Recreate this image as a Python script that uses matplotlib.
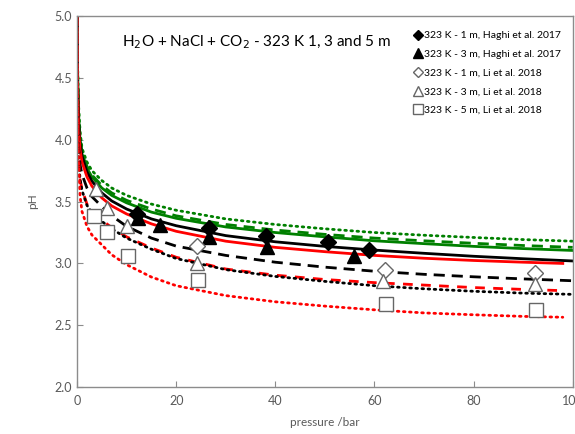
import matplotlib
matplotlib.use("Agg")
import matplotlib.pyplot as plt

plt.rcParams['font.family'] = ['Lato', 'DejaVu Sans']

# model curves (pressure in bar, pH)
p_full = [0.02, 0.1, 0.3, 0.6, 1, 2, 3, 5, 7, 10, 15, 20, 30, 40, 50, 60, 70, 80, 90, 100]
p_red = [0.02, 0.1, 0.3, 0.6, 1, 2, 3, 5, 7, 10, 15, 20, 30, 40, 50, 60, 70, 80, 90, 98]

green_dotted = [5.0, 4.62, 4.28, 4.07, 3.93, 3.82, 3.75, 3.67, 3.61, 3.55, 3.48, 3.43, 3.36, 3.315, 3.28, 3.25, 3.228, 3.21, 3.193, 3.18]
green_dashed = [5.0, 4.58, 4.23, 4.02, 3.90, 3.785, 3.715, 3.63, 3.57, 3.51, 3.44, 3.385, 3.315, 3.27, 3.235, 3.205, 3.183, 3.163, 3.145, 3.13]
green_solid = [5.0, 4.55, 4.20, 4.00, 3.885, 3.77, 3.70, 3.61, 3.55, 3.49, 3.415, 3.365, 3.295, 3.25, 3.215, 3.183, 3.16, 3.138, 3.12, 3.105]
black_solid = [5.0, 4.50, 4.15, 3.97, 3.87, 3.74, 3.665, 3.57, 3.505, 3.44, 3.36, 3.305, 3.225, 3.175, 3.138, 3.108, 3.082, 3.058, 3.038, 3.02]
red_solid = [5.0, 4.45, 4.10, 3.92, 3.82, 3.70, 3.625, 3.53, 3.465, 3.40, 3.32, 3.26, 3.18, 3.13, 3.095, 3.065, 3.042, 3.024, 3.01, 3.0]
black_dashed = [5.0, 4.30, 3.95, 3.80, 3.72, 3.61, 3.54, 3.46, 3.385, 3.30, 3.205, 3.14, 3.065, 3.01, 2.97, 2.937, 2.912, 2.892, 2.875, 2.86]
red_dashed = [5.0, 4.20, 3.85, 3.68, 3.60, 3.48, 3.42, 3.35, 3.29, 3.215, 3.125, 3.05, 2.955, 2.905, 2.87, 2.845, 2.825, 2.805, 2.79, 2.78]
black_dotted = [5.0, 4.25, 3.86, 3.68, 3.59, 3.47, 3.41, 3.34, 3.28, 3.205, 3.115, 3.04, 2.95, 2.895, 2.855, 2.82, 2.795, 2.775, 2.76, 2.75]
red_dotted = [5.0, 4.30, 3.85, 3.55, 3.42, 3.30, 3.23, 3.15, 3.07, 2.99, 2.89, 2.82, 2.74, 2.69, 2.655, 2.625, 2.60, 2.585, 2.572, 2.565]

# experimental points
haghi_1m_p = [12.0, 26.7, 38.1, 50.7, 58.9]
haghi_1m_ph = [3.40, 3.29, 3.22, 3.175, 3.11]
haghi_3m_p = [12.3, 16.7, 26.7, 38.4, 55.8]
haghi_3m_ph = [3.37, 3.31, 3.215, 3.135, 3.06]
li_1m_p = [24.3, 62.1, 92.3]
li_1m_ph = [3.145, 2.945, 2.92]
li_3m_p = [3.8, 6.0, 10.0, 24.3, 61.7, 92.3]
li_3m_ph = [3.60, 3.45, 3.30, 3.00, 2.86, 2.83]
li_5m_p = [3.4, 6.0, 10.2, 24.5, 62.3, 92.5]
li_5m_ph = [3.38, 3.255, 3.06, 2.87, 2.67, 2.62]

fig = plt.figure(figsize=(5.75, 4.34), dpi=100)
ax = fig.add_axes([0.134, 0.108, 0.862, 0.855])

lw = 2.0
ax.plot(p_full, green_dotted, color='#008000', lw=lw, linestyle=(0, (0.6, 1.6)), dash_capstyle='round')
ax.plot(p_full, green_dashed, color='#008000', lw=lw, linestyle=(0, (4, 2.5)))
ax.plot(p_full, green_solid, color='#008000', lw=lw)
ax.plot(p_full, black_solid, color='black', lw=lw)
ax.plot(p_red, red_solid, color='red', lw=lw)
ax.plot(p_full, black_dashed, color='black', lw=lw, linestyle=(0, (4, 2.5)))
ax.plot(p_red, red_dashed, color='red', lw=lw, linestyle=(0, (3.5, 3)))
ax.plot(p_full, black_dotted, color='black', lw=lw, linestyle=(0, (0.6, 1.6)), dash_capstyle='round')
ax.plot(p_red, red_dotted, color='red', lw=lw, linestyle=(0, (0.6, 1.6)), dash_capstyle='round')

gray = '#666666'
ax.plot(haghi_1m_p, haghi_1m_ph, 'D', color='black', ms=8, ls='none', label='323 K - 1 m, Haghi et al. 2017')
ax.plot(haghi_3m_p, haghi_3m_ph, '^', color='black', ms=10, ls='none', label='323 K - 3 m, Haghi et al. 2017')
ax.plot(li_1m_p, li_1m_ph, 'D', mfc='white', mec=gray, mew=1, ms=8, ls='none', label='323 K - 1 m, Li et al. 2018')
ax.plot(li_3m_p, li_3m_ph, '^', mfc='white', mec=gray, mew=1, ms=10, ls='none', label='323 K - 3 m, Li et al. 2018')
ax.plot(li_5m_p, li_5m_ph, 's', mfc='white', mec=gray, mew=1, ms=10, ls='none', label='323 K - 5 m, Li et al. 2018')

ax.set_xlim(0, 100)
ax.set_ylim(2.0, 5.0)
ax.set_xticks([0, 20, 40, 60, 80, 100])
ax.set_yticks([2.0, 2.5, 3.0, 3.5, 4.0, 4.5, 5.0])
ax.set_yticklabels(['2.0', '2.5', '3.0', '3.5', '4.0', '4.5', '5.0'])
for s in ax.spines.values():
    s.set_color('#8c8c8c')
    s.set_linewidth(1.0)
ax.tick_params(direction='in', length=4, color='#8c8c8c', labelcolor='#595959', labelsize=9)
ax.tick_params(axis='x', pad=6)
ax.set_xlabel('pressure /bar', fontsize=8.5, color='#595959', labelpad=7)
ax.set_ylabel('pH', fontsize=8.5, color='#595959', labelpad=12)

ax.text(0.09, 0.93, r'H$_2$O + NaCl + CO$_2$ - 323 K 1, 3 and 5 m', transform=ax.transAxes,
        fontsize=11, va='center', ha='left', color='black')

leg = ax.legend(loc='upper left', bbox_to_anchor=(0.66, 0.985), frameon=False, fontsize=7.5,
                handlelength=0.8, handletextpad=0.2, labelspacing=0.9, markerscale=0.65)

fig.savefig('out.png', dpi=100)
